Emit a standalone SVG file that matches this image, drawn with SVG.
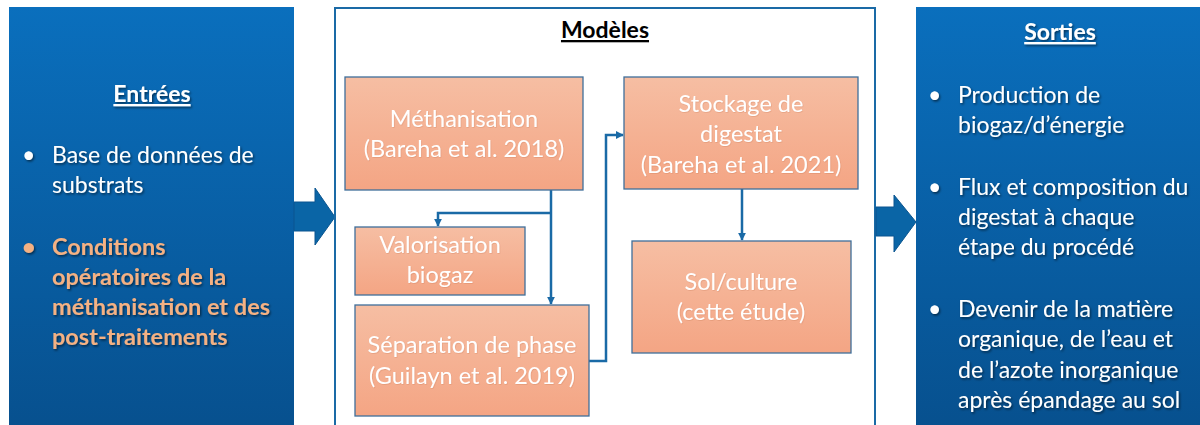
<svg xmlns="http://www.w3.org/2000/svg" width="1200" height="425" viewBox="0 0 1200 425">
  <defs>
    <linearGradient id="panelGrad" x1="0" y1="0" x2="0" y2="1">
      <stop offset="0" stop-color="#0a6fbd"/>
      <stop offset="1" stop-color="#07508e"/>
    </linearGradient>
    <linearGradient id="boxGrad" x1="0" y1="0" x2="0" y2="1">
      <stop offset="0" stop-color="#f6bea3"/>
      <stop offset="1" stop-color="#f4a584"/>
    </linearGradient>
    <filter id="tshadow" x="-10%" y="-30%" width="120%" height="160%">
      <feDropShadow dx="1.2" dy="1.5" stdDeviation="0.8" flood-color="#000" flood-opacity="0.55"/>
    </filter>
    <filter id="bshadow" x="-10%" y="-30%" width="120%" height="160%">
      <feDropShadow dx="0.6" dy="0.8" stdDeviation="0.5" flood-color="#b0603a" flood-opacity="0.25"/>
    </filter>
    <marker id="arr" viewBox="0 0 10 10" refX="9" refY="5" markerWidth="3.2" markerHeight="3.2" orient="auto" markerUnits="strokeWidth">
      <path d="M0,0 L10,5 L0,10 Z" fill="#1a6aa6"/>
    </marker>
    <style>
      .panel { fill: url(#panelGrad); }
      .ptext { font-family: Lato, "Open Sans", sans-serif; font-size: 23px; fill: #ffffff; filter: url(#tshadow); }
      .porange { font-family: Lato, "Open Sans", sans-serif; font-size: 23.5px; fill: #f4b183; font-weight: bold; filter: url(#tshadow); }
      .ptitle { font-family: Lato, "Open Sans", sans-serif; font-size: 23px; fill: #ffffff; font-weight: bold; text-decoration: underline; filter: url(#tshadow); }
      .mtitle { font-family: Lato, "Open Sans", sans-serif; font-size: 23px; fill: #000000; font-weight: bold; text-decoration: underline; }
      .box { fill: url(#boxGrad); stroke: #3f6f9a; stroke-width: 1.3; }
      .btext { font-family: Lato, "Open Sans", sans-serif; font-size: 23.5px; fill: #ffffff; text-anchor: middle; filter: url(#bshadow); }
      .conn { fill: none; stroke: #1a6aa6; stroke-width: 2.5; stroke-linejoin: miter; }
      .bigarrow { fill: #0a65a6; stroke: #0a5590; stroke-width: 1; }
      .frame { fill: #ffffff; stroke: #1a6aa6; stroke-width: 2; }
    </style>
  </defs>

  <rect width="1200" height="425" fill="#ffffff"/>

  <!-- Entrées panel -->
  <g id="entrees">
    <rect class="panel" x="9" y="7" width="285" height="425"/>
    <text class="ptitle" x="152" y="102" text-anchor="middle">Entrées</text>
    <text class="ptext" x="22" y="163">•</text>
    <text class="ptext" x="52" y="163">Base de données de</text>
    <text class="ptext" x="52" y="193">substrats</text>
    <text class="porange" x="22" y="255">•</text>
    <text class="porange" x="52" y="255">Conditions</text>
    <text class="porange" x="52" y="285">opératoires de la</text>
    <text class="porange" x="52" y="315">méthanisation et des</text>
    <text class="porange" x="52" y="345">post-traitements</text>
  </g>

  <!-- Arrow Entrées -> Modèles -->
  <g id="arrow-in">
    <path class="bigarrow" d="M294,202 L315,202 L315,188 L335,217 L315,245 L315,231 L294,231 Z"/>
  </g>

  <!-- Modèles frame -->
  <g id="modeles">
    <rect class="frame" x="335" y="8" width="540" height="425"/>
    <text class="mtitle" x="605" y="38" text-anchor="middle">Modèles</text>
  </g>

  <!-- Arrow Modèles -> Sorties -->
  <g id="arrow-out">
    <path class="bigarrow" d="M876,207 L894,207 L894,195 L916,222 L894,252 L894,236 L876,236 Z"/>
  </g>

  <!-- Sorties panel -->
  <g id="sorties">
    <rect class="panel" x="916" y="7" width="290" height="425"/>
    <text class="ptitle" x="1060" y="40" text-anchor="middle">Sorties</text>
    <text class="ptext" x="928" y="103">•</text>
    <text class="ptext" x="958" y="103">Production de</text>
    <text class="ptext" x="958" y="133">biogaz/d’énergie</text>
    <text class="ptext" x="928" y="195">•</text>
    <text class="ptext" x="958" y="195">Flux et composition du</text>
    <text class="ptext" x="958" y="225">digestat à chaque</text>
    <text class="ptext" x="958" y="255">étape du procédé</text>
    <text class="ptext" x="928" y="317">•</text>
    <text class="ptext" x="958" y="317">Devenir de la matière</text>
    <text class="ptext" x="958" y="347">organique, de l’eau et</text>
    <text class="ptext" x="958" y="378">de l’azote inorganique</text>
    <text class="ptext" x="958" y="408">après épandage au sol</text>
  </g>

  <!-- Connectors -->
  <g id="connectors">
    <path class="conn" d="M551,190 L551,304" marker-end="url(#arr)"/>
    <path class="conn" d="M551,213 L438,213 L438,226" marker-end="url(#arr)"/>
    <path class="conn" d="M589,361 L606,361 L606,135 L623,135" marker-end="url(#arr)"/>
    <path class="conn" d="M742,189 L742,240" marker-end="url(#arr)"/>
  </g>

  <!-- Model nodes -->
  <g id="methanisation">
    <rect class="box" x="345" y="77" width="238" height="113"/>
    <text class="btext" x="464" y="127">Méthanisation</text>
    <text class="btext" x="464" y="157">(Bareha et al. 2018)</text>
  </g>
  <g id="stockage">
    <rect class="box" x="624" y="77" width="234" height="112"/>
    <text class="btext" x="741" y="112">Stockage de</text>
    <text class="btext" x="741" y="142">digestat</text>
    <text class="btext" x="741" y="173">(Bareha et al. 2021)</text>
  </g>
  <g id="valorisation">
    <rect class="box" x="355" y="227" width="170" height="68"/>
    <text class="btext" x="440" y="253">Valorisation</text>
    <text class="btext" x="440" y="283">biogaz</text>
  </g>
  <g id="separation">
    <rect class="box" x="355" y="305" width="234" height="111"/>
    <text class="btext" x="472" y="353">Séparation de phase</text>
    <text class="btext" x="472" y="384">(Guilayn et al. 2019)</text>
  </g>
  <g id="sol">
    <rect class="box" x="632" y="241" width="219" height="112"/>
    <text class="btext" x="741" y="290">Sol/culture</text>
    <text class="btext" x="741" y="320">(cette étude)</text>
  </g>
</svg>
